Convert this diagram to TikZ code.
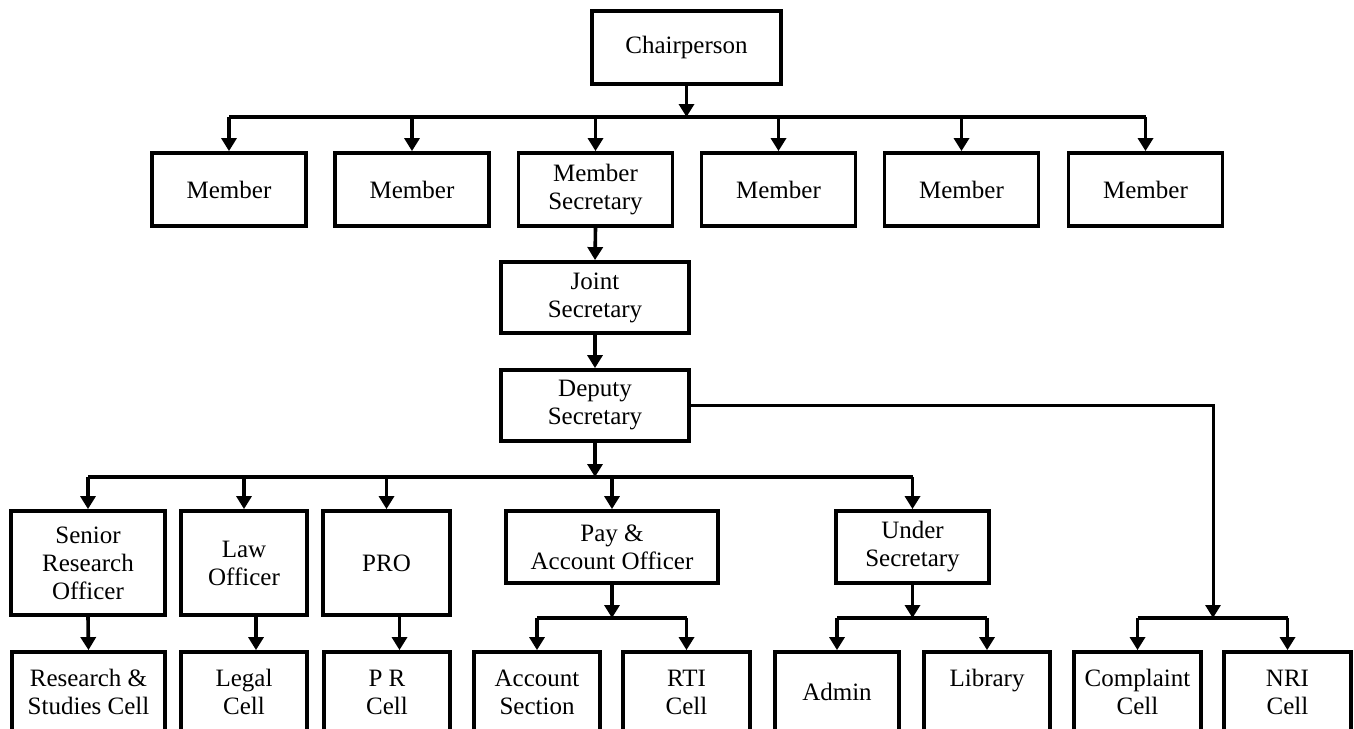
\documentclass[tikz,border=0pt]{standalone}
\usepackage{fontspec}
\setmainfont{Liberation Serif}
\usetikzlibrary{arrows.meta,calc}
\tikzset{
  box/.style={draw, line width=3.8pt, align=center, inner sep=0pt, font=\fontsize{25}{28}\selectfont},
  conn/.style={line width=3.6pt},
  arr/.style={conn, -{Triangle[width=15pt,length=13pt]}},
  thin arr/.style={line width=3pt, -{Triangle[width=15pt,length=13pt]}},
}
\begin{document}
\begin{tikzpicture}[x=1pt,y=-1pt]
\useasboundingbox (0,0) rectangle (1354,728);
% level 0
\node[box, minimum width=189pt, minimum height=73pt] (chair) at (686.5,47.5) {Chairperson};
% level 1
\foreach \n/\x in {m1/229,m2/412,m4/778.5,m5/961.5,m6/1145.5}
  \node[box, minimum width=154pt, minimum height=73pt] (\n) at (\x,189.5) {Member};
\node[box, minimum width=154pt, minimum height=73pt] (ms) at (595.5,189.5) {Member\\Secretary};
% level 2
\node[box, minimum width=188pt, minimum height=71pt] (js) at (595,297.5) {Joint\\Secretary};
\node[box, minimum width=188pt, minimum height=71pt] (ds) at (595,405.5) {Deputy\\Secretary};
% level 3
\node[box, minimum width=154pt, minimum height=104pt] (sro) at (88,563) {Senior\\Research\\Officer};
\node[box, minimum width=126pt, minimum height=104pt] (law) at (244,563) {Law\\Officer};
\node[box, minimum width=127pt, minimum height=104pt] (pro) at (386.5,563) {PRO};
\node[box, minimum width=212pt, minimum height=72pt] (pay) at (612,547) {Pay \&\\Account Officer};
\node[box, minimum width=153pt, minimum height=72pt] (us) at (912.5,547) {Under\\Secretary};
% level 4
\node[box, minimum width=153pt, minimum height=80pt] (rsc) at (88.5,692) {Research \&\\Studies Cell};
\node[box, minimum width=126pt, minimum height=80pt] (legal) at (244,692) {Legal\\Cell};
\node[box, minimum width=126pt, minimum height=80pt] (prc) at (387,692) {P R\\Cell};
\node[box, minimum width=126pt, minimum height=80pt] (acc) at (537,692) {Account\\Section};
\node[box, minimum width=127pt, minimum height=80pt] (rti) at (686.5,692) {RTI\\Cell};
\node[box, minimum width=124pt, minimum height=80pt] (admin) at (837,692) {Admin};
\node[box, minimum width=126pt, minimum height=80pt] (lib) at (987,692) {Library\\\mbox{}};
\node[box, minimum width=127pt, minimum height=80pt] (comp) at (1137.5,692) {Complaint\\Cell};
\node[box, minimum width=127pt, minimum height=80pt] (nri) at (1287.5,692) {NRI\\Cell};
% bar coordinates
\coordinate (b1) at (686.5,117);
\coordinate (b2) at (595,477);
\coordinate (b3) at (612,618);
\coordinate (b4) at (912.5,618);
\coordinate (b5) at (1213,618);
% chair -> members
\draw[arr] (chair.south) -- (b1);
\draw[conn] (m1.north |- b1) -- (m6.north |- b1);
\foreach \n in {m1,m2,ms,m4,m5,m6} \draw[arr] (\n.north |- b1) -- (\n.north);
% chain
\draw[arr] (ms.south) -- (js.north);
\draw[arr] (js.south) -- (ds.north);
% deputy -> level 3
\draw[arr] (ds.south) -- (b2);
\draw[conn] (sro.north |- b2) -- (us.north |- b2);
\foreach \n in {sro,law,pro,pay,us} \draw[arr] (\n.north |- b2) -- (\n.north);
% level 3 -> level 4
\draw[arr] (sro.south) -- (rsc.north);
\draw[arr] ([xshift=12pt]law.south) -- ([xshift=12pt]law.south |- legal.north);
\draw[arr] ([xshift=13pt]pro.south) -- ([xshift=13pt]pro.south |- prc.north);
\draw[arr] (pay.south) -- (b3);
\draw[conn] (acc.north |- b3) -- (rti.north |- b3);
\foreach \n in {acc,rti} \draw[arr] (\n.north |- b3) -- (\n.north);
\draw[arr] (us.south) -- (b4);
\draw[conn] (admin.north |- b4) -- (lib.north |- b4);
\foreach \n in {admin,lib} \draw[arr] (\n.north |- b4) -- (\n.north);
% deputy side branch
\draw[thin arr] (ds.east) -| (b5);
\draw[conn] (comp.north |- b5) -- (nri.north |- b5);
\foreach \n in {comp,nri} \draw[arr] (\n.north |- b5) -- (\n.north);
\end{tikzpicture}
\end{document}
